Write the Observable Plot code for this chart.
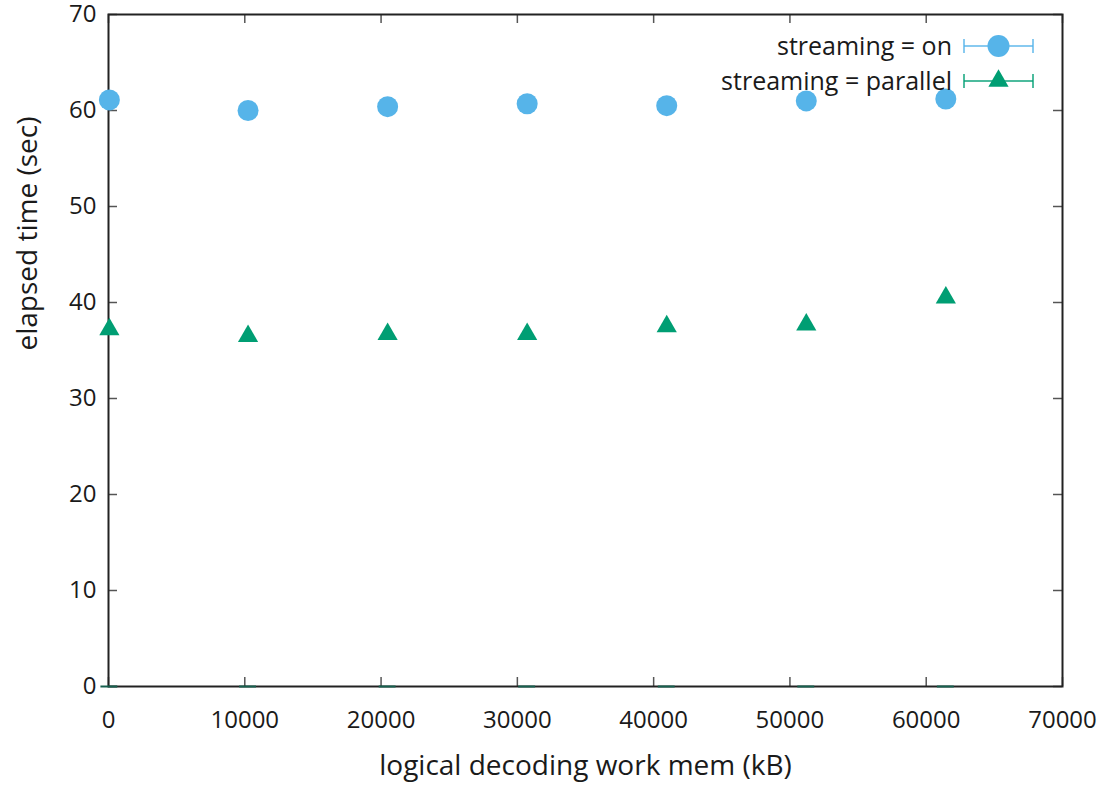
<!DOCTYPE html>
<html>
<head>
<meta charset="utf-8">
<script src="https://cdn.jsdelivr.net/npm/d3@7"></script>
<script src="https://cdn.jsdelivr.net/npm/@observablehq/plot@0.6"></script>
<style>
  html, body { margin: 0; padding: 0; background: #fff; }
  #wrap { position: relative; width: 1105px; height: 792px; }
  #wrap > svg { overflow: visible; }
  #legend { position: absolute; left: 0; top: 0; pointer-events: none; }
  text { font-family: "Open Sans", "Noto Sans", sans-serif; }
</style>
</head>
<body>
<div id="wrap"></div>
<script>
// ---- data ----
const workMem = [64, 10240, 20480, 30720, 40960, 51200, 61440];          // kB
const streamingOn = [61.1, 60.0, 60.4, 60.7, 60.5, 61.0, 61.2];          // sec
const streamingParallel = [37.2, 36.5, 36.7, 36.7, 37.5, 37.7, 40.5];    // sec
const xTicks = [0, 10000, 20000, 30000, 40000, 50000, 60000, 70000];
const yTicks = [0, 10, 20, 30, 40, 50, 60, 70];
const seriesNames = ["streaming = on", "streaming = parallel"];
const seriesColors = ["#56b4e9", "#009e73"];
const zeroBarHalf = 620;

const onData = workMem.map((x, i) => ({x, y: streamingOn[i]}));
const parData = workMem.map((x, i) => ({x, y: streamingParallel[i]}));

const W = 1105, H = 792;
const mL = 108, mR = 43, mT = 14, mB = 106;
const innerW = W - mL - mR, innerH = H - mT - mB;
const tickLen = 9;
const font = '"Open Sans", "Noto Sans", sans-serif';

const chart = Plot.plot({
  width: W, height: H,
  marginLeft: mL, marginRight: mR, marginTop: mT, marginBottom: mB,
  style: {fontFamily: font, fontSize: "24px", color: "#1a1a1a", background: "#fff", overflow: "visible"},
  x: {domain: [0, 70000], label: null},
  y: {domain: [0, 70], label: null},
  marks: [
    // inward ticks, bottom/top
    Plot.ruleX(xTicks, {x: d => d, insetTop: innerH - tickLen, stroke: "#555", strokeWidth: 1.5}),
    Plot.ruleX(xTicks, {x: d => d, insetBottom: innerH - tickLen, stroke: "#555", strokeWidth: 1.5}),
    // inward ticks, left/right
    Plot.ruleY(yTicks, {y: d => d, insetRight: innerW - tickLen, stroke: "#555", strokeWidth: 1.5}),
    Plot.ruleY(yTicks, {y: d => d, insetLeft: innerW - tickLen, stroke: "#555", strokeWidth: 1.5}),
    Plot.frame({stroke: "#222", strokeWidth: 2}),
    // error bars at zero
    Plot.ruleY(workMem, {y: 0, x1: d => d - zeroBarHalf, x2: d => d + zeroBarHalf, stroke: "#17604f", strokeWidth: 2}),
    Plot.axisX({ticks: xTicks, tickSize: 0, tickPadding: 24, tickFormat: d => String(d), fontSize: 24, label: null}),
    Plot.axisY({ticks: yTicks, tickSize: 0, tickPadding: 12, tickFormat: d => String(d), fontSize: 24, label: null}),
    Plot.text(["logical decoding work mem (kB)"], {frameAnchor: "bottom", dy: 88, text: d => d, fontSize: 28, fill: "#1a1a1a"}),
    Plot.text(["elapsed time (sec)"], {frameAnchor: "left", dx: -80, rotate: -90, text: d => d, fontSize: 28, fill: "#1a1a1a"}),
    Plot.dot(onData, {x: "x", y: "y", r: 10.5, fill: seriesColors[0], stroke: "none"}),
    Plot.dot(parData, {x: "x", y: "y", r: 7.5, symbol: "triangle", fill: seriesColors[1], stroke: "none"})
  ]
});
document.getElementById("wrap").appendChild(chart);

// ---- legend overlay ----
const svg = d3.select("#wrap").append("svg")
  .attr("id", "legend").attr("width", W).attr("height", H);
const legendRows = [
  {name: seriesNames[0], color: seriesColors[0], sym: d3.symbolCircle, size: Math.PI * 11 * 11, cy: 46},
  {name: seriesNames[1], color: seriesColors[1], sym: d3.symbolTriangle, size: Math.PI * 7.5 * 7.5, cy: 81}
];
for (const r of legendRows) {
  const g = svg.append("g");
  g.append("text").attr("x", 952).attr("y", r.cy).attr("dy", "0.35em")
    .attr("text-anchor", "end").attr("font-size", 25).attr("fill", "#1a1a1a").text(r.name);
  const x1 = 964, x2 = 1033;
  g.append("line").attr("x1", x1).attr("x2", x2).attr("y1", r.cy).attr("y2", r.cy)
    .attr("stroke", r.color).attr("stroke-opacity", 0.7).attr("stroke-width", 2);
  for (const xx of [x1, x2]) {
    g.append("line").attr("x1", xx).attr("x2", xx).attr("y1", r.cy - 7).attr("y2", r.cy + 7)
      .attr("stroke", r.color).attr("stroke-opacity", 0.7).attr("stroke-width", 2);
  }
  g.append("path").attr("d", d3.symbol(r.sym, r.size)())
    .attr("transform", `translate(${(x1 + x2) / 2},${r.cy})`).attr("fill", r.color);
}
</script>
</body>
</html>
